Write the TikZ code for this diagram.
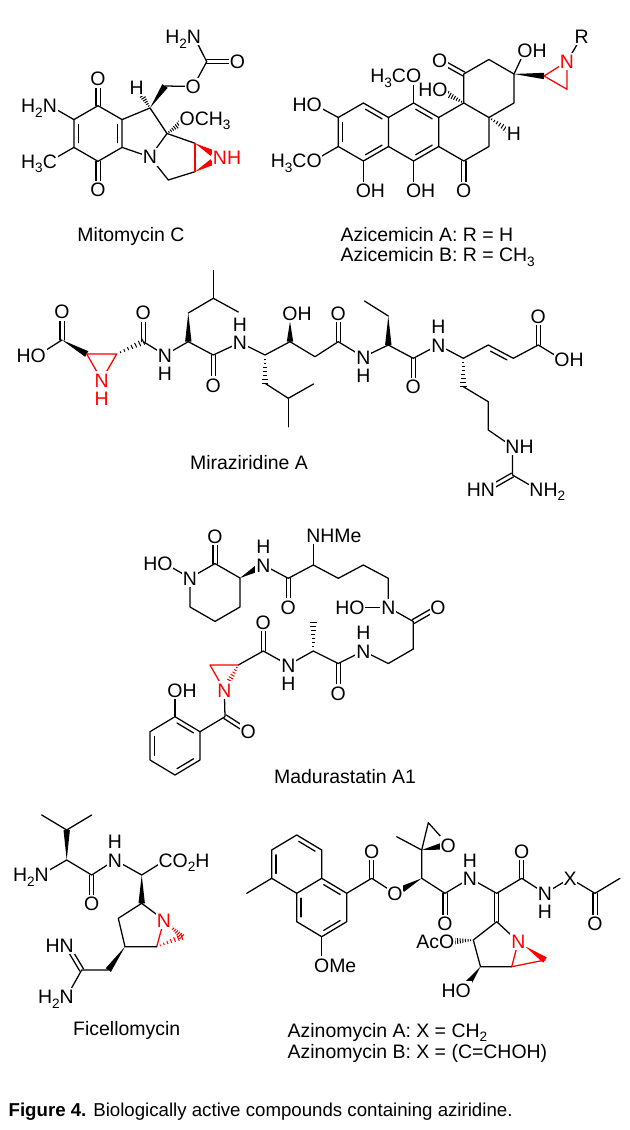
\documentclass[tikz,border=0pt]{standalone}
\usepackage{fontspec}
\setmainfont{Liberation Sans}
\usetikzlibrary{calc}
\newcommand{\lab}{\fontsize{14.6}{16}\selectfont}
\newcommand{\capf}{\fontsize{14.6}{17}\selectfont}
\newcommand{\ssub}[1]{\raisebox{-0.45ex}{\fontsize{10.2}{10}\selectfont #1}}
% bold wedge: narrow at #2, wide at #3
\newcommand{\wdg}[3][black]{\fill[#1] (#2) -- ($(#3)!2.4pt!90:(#2)$) -- ($(#3)!2.4pt!-90:(#2)$) -- cycle;}
% hashed wedge: narrow at #2, wide at #3
\newcommand{\hsh}[3][black]{\foreach \k in {1,...,7}{\pgfmathsetmacro\hw{0.35+0.3*\k}\path ($(#2)!\k/7!(#3)$) coordinate (hq); \draw[#1,line width=0.75pt,line cap=butt] ($(hq)!\hw pt!90:(#2)$) -- ($(hq)!\hw pt!-90:(#2)$);}}
% centred double bond
\newcommand{\cdb}[3][]{\draw[#1] ($(#2)!1.6pt!90:(#3)$) -- ($(#3)!1.6pt!-90:(#2)$); \draw[#1] ($(#2)!1.6pt!-90:(#3)$) -- ($(#3)!1.6pt!90:(#2)$);}
% inner line of a ring double bond (ring traversed clockwise)
\newcommand{\idb}[2]{\draw ($(#1)!0.17!(#2)!3.3pt!-90:(#2)$) -- ($(#2)!0.17!(#1)!3.3pt!90:(#1)$);}
\tikzset{
 atm/.style={fill=white,inner xsep=0.6pt,inner ysep=1.3pt,text height=10.5pt,text depth=0pt,font=\lab},
 hatm/.style={atm,inner ysep=0.4pt},
 ratm/.style={atm,text=red},
 capt/.style={font=\capf,inner sep=0pt,anchor=base},
 captl/.style={font=\capf,inner sep=0pt,anchor=base west},
}
\begin{document}
\begin{tikzpicture}[x=0.75pt,y=-0.75pt,line width=0.95pt,line cap=round,line join=round]
\fill[white] (0,0) rectangle (629,1130);
\useasboundingbox (0,0) rectangle (629,1130);

%================ Mitomycin C
\coordinate (m1) at (98,105.7);
\coordinate (m2) at (122.1,119.6);
\coordinate (m3) at (122.1,147.4);
\coordinate (m4) at (98,161.3);
\coordinate (m5) at (73.9,147.4);
\coordinate (m6) at (73.9,119.6);
\coordinate (mO1) at (98,79);
\coordinate (mO2) at (98,190);
\coordinate (mNa) at (49.8,105.7);
\coordinate (mCa) at (49.8,161.3);
\coordinate (m9) at (150,108);
\coordinate (m9a) at (167,133.5);
\coordinate (mN) at (150,157);
\coordinate (mc3) at (168.3,180);
\coordinate (mc2) at (195,171.7);
\coordinate (mc1) at (195,143.3);
\coordinate (mNz) at (220,157.5);
\coordinate (mNz1) at (212.2,153.1);
\coordinate (mNz2) at (212.2,162);
\coordinate (mH) at (136.7,87.3);
\coordinate (mHe) at (141,94);
\coordinate (mCH2) at (165,86);
\coordinate (mOe) at (193.3,86.5);
\coordinate (mCc) at (206.7,61.7);
\coordinate (mOc) at (237.5,61.7);
\coordinate (mNc) at (194,36.5);
\coordinate (mOm) at (187.3,118.3);
\coordinate (mOme) at (180.5,123.4);
\draw (m1)--(m2)--(m3)--(m4)--(m5)--(m6)--cycle;
\idb{m2}{m3} \idb{m5}{m6}
\cdb{m1}{mO1} \cdb{m4}{mO2}
\draw (m6)--(mNa); \draw (m5)--(mCa);
\draw (m2)--(m9)--(m9a)--(mN)--(m3);
\draw (mN)--(mc3)--(mc2); \draw (mc1)--(m9a);
\draw[red] (mc1)--(mc2);
\wdg[red]{mc1}{mNz1} \wdg[red]{mc2}{mNz2}
\hsh{m9}{mHe}
\wdg{m9}{mCH2}
\draw (mCH2)--(mOe)--(mCc)--(mNc);
\cdb{mCc}{mOc}
\hsh{m9a}{mOme}
\node[atm] (lmO1) at (mO1) {O};
\node[atm] (lmO2) at (mO2) {O};
\node[atm] (lmNa) at (mNa) {\llap{H\ssub{2}}N};
\node[atm] (lmCa) at (mCa) {\llap{H\ssub{3}}C};
\node[atm] (lmN) at (mN) {N};
\node[ratm] (lmNz) at (mNz) {N\rlap{H}};
\node[atm] (lmH) at (mH) {H};
\node[atm] (lmOe) at (mOe) {O};
\node[atm] (lmOc) at (mOc) {O};
\node[atm] (lmNc) at (mNc) {\llap{H\ssub{2}}N};
\node[atm] (lmOm) at (mOm) {O\rlap{CH\ssub{3}}};
\node[capt] (cap1) at (131,242) {Mitomycin C};

%================ Azicemicin
\coordinate (zA1) at (363.4,103);
\coordinate (zA2) at (388.5,117.5);
\coordinate (zA3) at (388.5,146.5);
\coordinate (zA4) at (363.4,161);
\coordinate (zA5) at (338.3,146.5);
\coordinate (zA6) at (338.3,117.5);
\coordinate (zB1) at (413.6,103);
\coordinate (zB2) at (438.7,117.5);
\coordinate (zB3) at (438.7,146.5);
\coordinate (zB4) at (413.6,161);
\coordinate (zC1) at (463.8,103);
\coordinate (zC2) at (488.9,117.5);
\coordinate (zC3) at (488.9,146.5);
\coordinate (zC4) at (463.8,161);
\coordinate (zD1) at (463.8,74);
\coordinate (zD2) at (488.9,59.5);
\coordinate (zD3) at (514,74);
\coordinate (zD4) at (514,103);
\coordinate (zO1) at (314.3,104.5);
\coordinate (zO2) at (314.1,160.5);
\coordinate (zO3) at (363.4,190.5);
\coordinate (zO4) at (413.6,76);
\coordinate (zO5) at (413.6,190.5);
\coordinate (zO6) at (463.8,190.5);
\coordinate (zO7) at (440,90);
\coordinate (zO7e) at (447.5,94.1);
\coordinate (zH) at (514,134);
\coordinate (zHe) at (507.7,129.9);
\coordinate (zO8) at (439.6,60.5);
\coordinate (zO9) at (525,50.5);
\coordinate (zaC) at (544,76);
\coordinate (zaN) at (567,61.5);
\coordinate (zaM) at (567,89.3);
\coordinate (zR) at (581.7,36.7);
\draw (zA1)--(zA2)--(zA3)--(zA4)--(zA5)--(zA6)--cycle;
\draw (zA2)--(zB1)--(zB2)--(zB3)--(zB4)--(zA3);
\draw (zB2)--(zC1)--(zC2)--(zC3)--(zC4)--(zB3);
\draw (zC1)--(zD1)--(zD2)--(zD3)--(zD4)--(zC2);
\idb{zA1}{zA2} \idb{zA3}{zA4} \idb{zA5}{zA6} \idb{zB1}{zB2} \idb{zB3}{zB4}
\draw (zA6)--(zO1); \draw (zA5)--(zO2); \draw (zA4)--(zO3); \draw (zB1)--(zO4); \draw (zB4)--(zO5);
\cdb{zC4}{zO6} \cdb{zD1}{zO8}
\hsh{zC1}{zO7e} \hsh{zC2}{zHe}
\draw (zD3)--(zO9);
\wdg{zD3}{zaC}
\draw[red] (zaC)--(zaN)--(zaM)--cycle;
\draw (zaN)--(zR);
\node[atm] (lzO1) at (zO1) {\llap{H}O};
\node[atm] (lzO2) at (zO2) {\llap{H\ssub{3}C}O};
\node[atm] (lzO3) at (zO3) {O\rlap{H}};
\node[atm] (lzO4) at (zO4) {\llap{H\ssub{3}C}O};
\node[atm] (lzO5) at (zO5) {O\rlap{H}};
\node[atm] (lzO6) at (zO6) {O};
\node[atm] (lzO7) at (zO7) {\llap{H}O};
\node[atm] (lzH) at (zH) {H};
\node[atm] (lzO8) at (zO8) {O};
\node[atm] (lzO9) at (zO9) {O\rlap{H}};
\node[ratm] (lzaN) at (zaN) {N};
\node[atm] (lzR) at (zR) {R};
\node[captl] (cap2a) at (340,242) {Azicemicin A: R = H};
\node[captl] (cap2b) at (340,262) {Azicemicin B: R = CH\ssub{3}};

%================ Miraziridine A
\coordinate (rO1) at (38.3,355);
\coordinate (rC1) at (62,340);
\coordinate (rO2) at (62,312);
\coordinate (rA1) at (86.7,354);
\coordinate (rA2) at (116.7,354);
\coordinate (rAN) at (101.7,380);
\coordinate (rAH) at (101.7,398.3);
\coordinate (rC2) at (143.3,341.7);
\coordinate (rO3) at (143.3,313);
\coordinate (rN1) at (165,355);
\coordinate (rN1H) at (165,373.3);
\coordinate (rCa1) at (188.3,341.7);
\coordinate (rCb1) at (188.3,313);
\coordinate (rCg1) at (213.3,298.3);
\coordinate (rMe1) at (238.3,312);
\coordinate (rMe2) at (213.3,270.5);
\coordinate (rC3) at (213.3,355);
\coordinate (rO4) at (213.3,385);
\coordinate (rN2) at (240,342.5);
\coordinate (rN2H) at (240,324.2);
\coordinate (rCd) at (265,355);
\coordinate (rS0) at (265,383.3);
\coordinate (rCHb) at (288.3,398.3);
\coordinate (rMe3) at (313.5,384);
\coordinate (rMe4) at (288.3,426.7);
\coordinate (rCOH) at (290,341.7);
\coordinate (rO5) at (290,313.3);
\coordinate (rO5e) at (290,321.5);
\coordinate (rCH2b) at (315,356.7);
\coordinate (rC4) at (338.3,341.7);
\coordinate (rO6) at (338.3,313.3);
\coordinate (rN3) at (363.3,357);
\coordinate (rN3H) at (363.3,375.3);
\coordinate (rCa3) at (388.3,345);
\coordinate (rCb3) at (388.3,316);
\coordinate (rCg3) at (364.5,301);
\coordinate (rC5) at (413.3,358.3);
\coordinate (rO7) at (413.3,386.7);
\coordinate (rN4) at (438.3,345);
\coordinate (rN4H) at (438.3,326.7);
\coordinate (rCg) at (463.3,358.3);
\coordinate (rS1) at (463.3,386.7);
\coordinate (rS2) at (488.3,401.7);
\coordinate (rS3) at (488.3,430);
\coordinate (rNH) at (512.5,446.7);
\coordinate (rCg2) at (512.5,475);
\coordinate (rHN) at (488,489);
\coordinate (rNH2) at (536.5,489);
\coordinate (rE1) at (488.3,345);
\coordinate (rE2) at (513.3,358.3);
\coordinate (rC6) at (538.3,345);
\coordinate (rO8) at (538.3,316.7);
\coordinate (rO9) at (562,359.5);
\draw (rO1)--(rC1); \cdb{rC1}{rO2}
\wdg{rC1}{rA1}
\draw[red] (rA1)--(rA2)--(rAN)--cycle;
\hsh{rA2}{rC2}
\cdb{rC2}{rO3}
\draw (rC2)--(rN1)--(rCa1);
\wdg{rCb1}{rCa1}
\draw (rCb1)--(rCg1)--(rMe1); \draw (rCg1)--(rMe2);
\draw (rCa1)--(rC3)--(rN2)--(rCd)--(rCOH)--(rCH2b)--(rC4)--(rN3)--(rCa3)--(rC5)--(rN4)--(rCg)--(rE1)--(rE2)--(rC6)--(rO9);
\cdb{rC3}{rO4}
\hsh{rCd}{rS0}
\draw (rS0)--(rCHb)--(rMe3); \draw (rCHb)--(rMe4);
\wdg{rO5e}{rCOH}
\cdb{rC4}{rO6}
\wdg{rCb3}{rCa3}
\draw (rCb3)--(rCg3);
\cdb{rC5}{rO7}
\hsh{rCg}{rS1}
\draw (rS1)--(rS2)--(rS3)--(rNH)--(rCg2)--(rNH2);
\cdb{rCg2}{rHN}
\idb{rE1}{rE2}
\cdb{rC6}{rO8}
\node[atm] (lrO1) at (rO1) {\llap{H}O};
\node[atm] (lrO2) at (rO2) {O};
\node[ratm] (lrAN) at (rAN) {N};
\node[hatm,text=red] (lrAH) at (rAH) {H};
\node[atm] (lrO3) at (rO3) {O};
\node[atm] (lrN1) at (rN1) {N}; \node[hatm] (lrN1H) at (rN1H) {H};
\node[atm] (lrO4) at (rO4) {O};
\node[atm] (lrN2) at (rN2) {N}; \node[hatm] (lrN2H) at (rN2H) {H};
\node[atm] (lrO5) at (rO5) {O\rlap{H}};
\node[atm] (lrO6) at (rO6) {O};
\node[atm] (lrN3) at (rN3) {N}; \node[hatm] (lrN3H) at (rN3H) {H};
\node[atm] (lrO7) at (rO7) {O};
\node[atm] (lrN4) at (rN4) {N}; \node[hatm] (lrN4H) at (rN4H) {H};
\node[atm] (lrNH) at (rNH) {N\rlap{H}};
\node[atm] (lrHN) at (rHN) {\llap{H}N};
\node[atm] (lrNH2) at (rNH2) {N\rlap{H\ssub{2}}};
\node[atm] (lrO8) at (rO8) {O};
\node[atm] (lrO9) at (rO9) {O\rlap{H}};
\node[capt] (cap3) at (249,469.5) {Miraziridine A};

%================ Madurastatin A1
\coordinate (dOa) at (165,563.5);
\coordinate (dN1) at (190,578);
\coordinate (dC2) at (215,563.6);
\coordinate (dO2) at (215,536);
\coordinate (dC3) at (240,578);
\coordinate (dC4) at (240,607);
\coordinate (dC5) at (215,621.4);
\coordinate (dC6) at (190,607);
\coordinate (dN2) at (263.3,565);
\coordinate (dN2e) at (256.3,568.9);
\coordinate (dN2H) at (263.3,546.7);
\coordinate (dC7) at (288.3,578.3);
\coordinate (dO7) at (288.3,607);
\coordinate (dC8) at (313.3,565);
\coordinate (dNMe) at (313.3,535.5);
\coordinate (dC9) at (338.3,578.3);
\coordinate (dC10) at (363.3,565);
\coordinate (dC11) at (388.3,578.3);
\coordinate (dN3) at (388.3,607.3);
\coordinate (dOb) at (357,607.3);
\coordinate (dC12) at (413.3,621.5);
\coordinate (dO12) at (438,607.3);
\coordinate (dC13) at (413.3,649);
\coordinate (dC14) at (388.3,663.5);
\coordinate (dN4) at (363.3,651);
\coordinate (dN4H) at (363.3,632.7);
\coordinate (dC15) at (338.3,663.5);
\coordinate (dO15) at (338.3,693);
\coordinate (dC16) at (313.3,651);
\coordinate (dMe) at (313.3,622);
\coordinate (dN5) at (288.3,665);
\coordinate (dN5H) at (288.3,683.5);
\coordinate (dC17) at (263.3,651);
\coordinate (dO17) at (263.3,622);
\coordinate (dA1) at (238.3,665);
\coordinate (dA2) at (210,665);
\coordinate (dAN) at (224.3,690);
\coordinate (dANe) at (228.2,683);
\coordinate (dC18) at (225,716.7);
\coordinate (dO18) at (248.3,731.7);
\coordinate (dB1) at (200,731.7);
\coordinate (dB2) at (175,716.7);
\coordinate (dB3) at (150,731.7);
\coordinate (dB4) at (150,760);
\coordinate (dB5) at (175,775);
\coordinate (dB6) at (200,760);
\coordinate (dOH) at (175,690);
\draw (dOa)--(dN1);
\draw (dN1)--(dC2)--(dC3)--(dC4)--(dC5)--(dC6)--cycle;
\cdb{dC2}{dO2}
\wdg{dC3}{dN2e}
\draw (dN2)--(dC7)--(dC8)--(dC9)--(dC10)--(dC11)--(dN3)--(dC12)--(dC13)--(dC14)--(dN4)--(dC15)--(dC16)--(dN5)--(dC17)--(dA1);
\draw (dC8)--(dNMe); \draw (dOb)--(dN3);
\cdb{dC7}{dO7} \cdb{dC12}{dO12} \cdb{dC15}{dO15} \cdb{dC17}{dO17}
\hsh{dC16}{dMe}
\draw[red] (dA1)--(dA2)--(dAN);
\hsh[red]{dA1}{dANe}
\draw (dAN)--(dC18)--(dB1);
\cdb{dC18}{dO18}
\draw (dB1)--(dB2)--(dB3)--(dB4)--(dB5)--(dB6)--cycle;
\idb{dB2}{dB1} \idb{dB6}{dB5} \idb{dB4}{dB3}
\draw (dB2)--(dOH);
\node[atm] (ldOa) at (dOa) {\llap{H}O};
\node[atm] (ldN1) at (dN1) {N};
\node[atm] (ldO2) at (dO2) {O};
\node[atm] (ldN2) at (dN2) {N}; \node[hatm] (ldN2H) at (dN2H) {H};
\node[atm] (ldO7) at (dO7) {O};
\node[atm] (ldNMe) at (dNMe) {N\rlap{HMe}};
\node[atm] (ldN3) at (dN3) {N};
\node[atm] (ldOb) at (dOb) {\llap{H}O};
\node[atm] (ldO12) at (dO12) {O};
\node[atm] (ldN4) at (dN4) {N}; \node[hatm] (ldN4H) at (dN4H) {H};
\node[atm] (ldO15) at (dO15) {O};
\node[atm] (ldN5) at (dN5) {N}; \node[hatm] (ldN5H) at (dN5H) {H};
\node[atm] (ldO17) at (dO17) {O};
\node[ratm] (ldAN) at (dAN) {N};
\node[atm] (ldO18) at (dO18) {O};
\node[atm] (ldOH) at (dOH) {O\rlap{H}};
\node[capt] (cap4) at (345,783.3) {Madurastatin A1};

%================ Ficellomycin
\coordinate (fCH) at (66.7,830);
\coordinate (fMe1) at (41.7,815);
\coordinate (fMe2) at (91.7,815);
\coordinate (fCa) at (66.7,860);
\coordinate (fNa) at (41.7,874.5);
\coordinate (fC1) at (91.7,875);
\coordinate (fO1) at (91.7,903.3);
\coordinate (fN) at (115,860);
\coordinate (fNH) at (115,841.7);
\coordinate (fCb) at (141.7,875);
\coordinate (fCO) at (165.7,860);
\coordinate (fR2) at (141.7,903.3);
\coordinate (fRN) at (164,920);
\coordinate (fRNe) at (169.8,925.5);
\coordinate (fR5) at (156.7,946.7);
\coordinate (fR4) at (125,946.7);
\coordinate (fR3) at (118.3,918.3);
\coordinate (fAz) at (181.7,936.7);
\coordinate (fCH2) at (108.3,970);
\coordinate (fCam) at (81.7,970);
\coordinate (fHN) at (66.7,945);
\coordinate (fH2N) at (66.7,996.7);
\draw (fMe1)--(fCH)--(fMe2);
\wdg{fCa}{fCH}
\draw (fNa)--(fCa)--(fC1)--(fN)--(fCb)--(fCO);
\cdb{fC1}{fO1}
\wdg{fCb}{fR2}
\draw (fR2)--(fRN); \draw[red] (fRN)--(fR5); \draw (fR5)--(fR4)--(fR3)--(fR2);
\hsh[red]{fRNe}{fAz} \hsh[red]{fR5}{fAz}
\wdg{fR4}{fCH2}
\draw (fCH2)--(fCam)--(fH2N);
\cdb{fCam}{fHN}
\node[atm] (lfNa) at (fNa) {\llap{H\ssub{2}}N};
\node[atm] (lfO1) at (fO1) {O};
\node[atm] (lfN) at (fN) {N}; \node[hatm] (lfNH) at (fNH) {H};
\node[atm] (lfCO) at (fCO) {C\rlap{O\ssub{2}H}};
\node[ratm] (lfRN) at (fRN) {N};
\node[atm] (lfHN) at (fHN) {\llap{H}N};
\node[atm] (lfH2N) at (fH2N) {\llap{H\ssub{2}}N};
\node[capt] (cap5) at (126.7,1035) {Ficellomycin};

%================ Azinomycin
\coordinate (ya1) at (271.7,850);
\coordinate (ya2) at (296.7,835);
\coordinate (ya3) at (321.7,850);
\coordinate (ya4) at (321.7,878.3);
\coordinate (ya5) at (296.7,893.3);
\coordinate (ya6) at (271.7,878.3);
\coordinate (yb3) at (346.7,893.3);
\coordinate (yb4) at (346.7,921.7);
\coordinate (yb5) at (321.7,936.7);
\coordinate (yb6) at (296.7,921.7);
\coordinate (yMe) at (246.7,893.3);
\coordinate (yOM) at (321.7,965);
\coordinate (yC1) at (371.7,878.3);
\coordinate (yO1) at (371.7,851);
\coordinate (yO2) at (395,893.3);
\coordinate (yCH) at (421.7,878.3);
\coordinate (yWe) at (402.4,889.1);
\coordinate (yCq) at (421.7,850);
\coordinate (yMq) at (396.7,836.7);
\coordinate (yEO) at (448.3,845);
\coordinate (yEC) at (428.3,822.7);
\coordinate (yWq) at (440.4,846.5);
\coordinate (yC2) at (445,893.3);
\coordinate (yO3) at (445,923.3);
\coordinate (yN1) at (470,878.3);
\coordinate (yN1H) at (470,860);
\coordinate (yC3) at (496.7,893.3);
\coordinate (yC4) at (496.7,921.7);
\coordinate (yC5) at (521.7,878.3);
\coordinate (yO5) at (521.7,851.5);
\coordinate (yN2) at (545,893.3);
\coordinate (yN2H) at (545,911.6);
\coordinate (yX) at (570,878.3);
\coordinate (yC6) at (595,893.3);
\coordinate (yO6) at (595,923.3);
\coordinate (yM6) at (620,878.3);
\coordinate (yRN) at (518.3,941.7);
\coordinate (yRNe) at (524.9,946.2);
\coordinate (yR5) at (511.7,966.7);
\coordinate (yR4) at (480.5,966.7);
\coordinate (yR3) at (473.3,940);
\coordinate (yAz) at (545,960);
\coordinate (yOAc) at (446.7,941.7);
\coordinate (yOAce) at (455,941.2);
\coordinate (yOH) at (463.3,990);
\coordinate (yOHe) at (468.6,982.8);
\draw (ya1)--(ya2)--(ya3)--(ya4)--(ya5)--(ya6)--cycle;
\draw (ya4)--(yb3)--(yb4)--(yb5)--(yb6)--(ya5);
\idb{ya6}{ya1} \idb{ya2}{ya3} \idb{ya4}{yb3} \idb{yb4}{yb5} \idb{yb6}{ya5}
\draw (ya6)--(yMe); \draw (yb5)--(yOM); \draw (yb3)--(yC1)--(yO2);
\cdb{yC1}{yO1}
\wdg{yCH}{yWe}
\draw (yCH)--(yCq)--(yMq); \draw (yCq)--(yEC)--(yEO);
\wdg{yCq}{yWq}
\draw (yCH)--(yC2)--(yN1)--(yC3)--(yC5)--(yN2)--(yX)--(yC6)--(yM6);
\cdb{yC2}{yO3} \cdb{yC5}{yO5} \cdb{yC6}{yO6} \cdb{yC3}{yC4}
\draw (yC4)--(yRN); \draw[red] (yRN)--(yR5); \draw (yR5)--(yR4)--(yR3)--(yC4);
\wdg[red]{yRNe}{yAz} \draw[red] (yR5)--(yAz);
\hsh{yR3}{yOAce}
\wdg{yR4}{yOHe}
\node[atm] (lyOM) at (yOM) {O\rlap{Me}};
\node[atm] (lyO1) at (yO1) {O};
\node[atm] (lyO2) at (yO2) {O};
\node[atm] (lyEO) at (yEO) {O};
\node[atm] (lyO3) at (yO3) {O};
\node[atm] (lyN1) at (yN1) {N}; \node[hatm] (lyN1H) at (yN1H) {H};
\node[atm] (lyO5) at (yO5) {O};
\node[atm] (lyN2) at (yN2) {N}; \node[hatm] (lyN2H) at (yN2H) {H};
\node[atm] (lyX) at (yX) {X};
\node[atm] (lyO6) at (yO6) {O};
\node[ratm] (lyRN) at (yRN) {N};
\node[atm] (lyOAc) at (yOAc) {\llap{Ac}O};
\node[atm] (lyOH) at (yOH) {\llap{H}O};
\node[captl] (cap6a) at (287,1037) {Azinomycin A: X = CH\ssub{2}};
\node[captl] (cap6b) at (287,1058) {Azinomycin B: X = (C=CHOH)};

%================ Figure caption
\node[font=\fontsize{14}{16}\selectfont,inner sep=0pt,anchor=base west] (figcap) at (8,1116) {\textbf{Figure 4.} Biologically active compounds containing aziridine.};
\end{tikzpicture}
\end{document}
